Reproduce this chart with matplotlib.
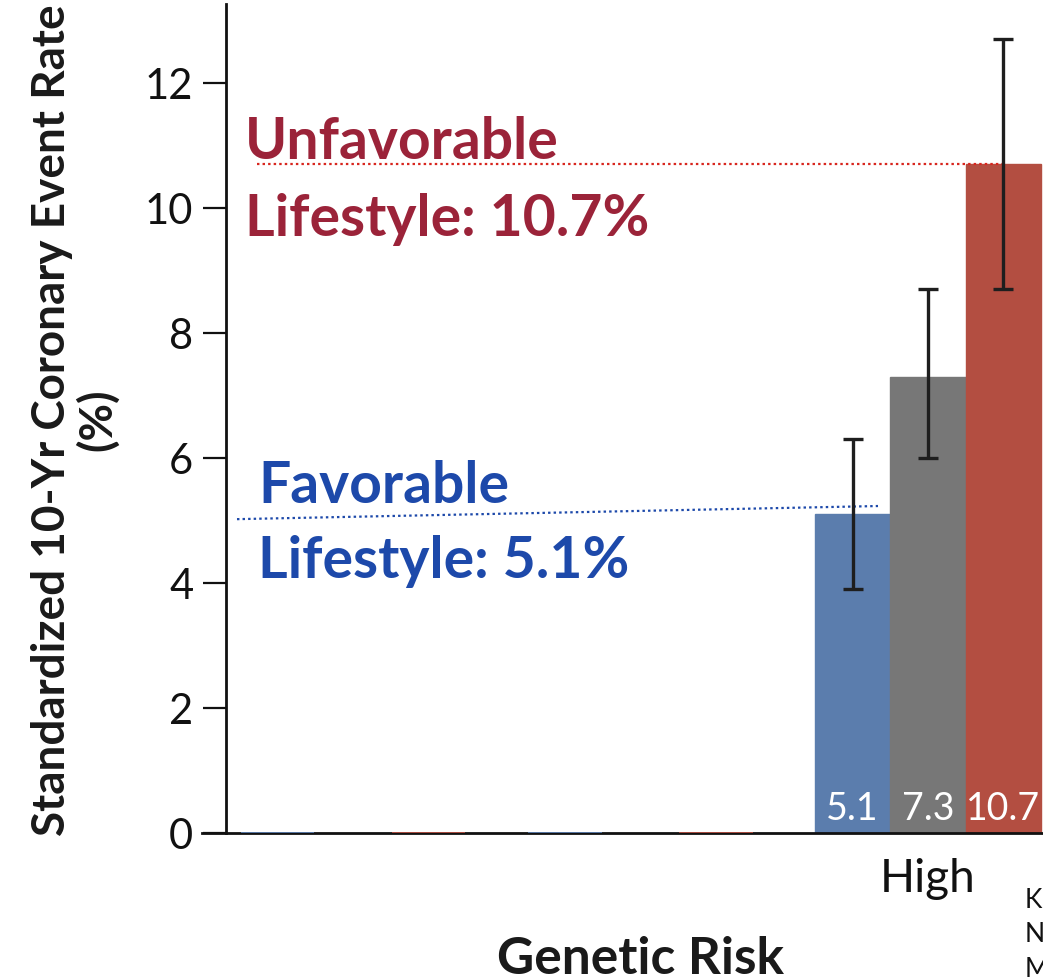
import matplotlib
matplotlib.use("Agg")
import matplotlib.pyplot as plt
import matplotlib.transforms as mtransforms
import numpy as np

# ---------------- data ----------------
categories = ["Low", "Intermediate", "High"]
lifestyle_groups = ["Favorable", "Intermediate", "Unfavorable"]
# Low / Intermediate genetic-risk bars are not revealed in this build (shown at 0)
favorable = [0.0, 0.0, 5.1]
intermediate = [0.0, 0.0, 7.3]
unfavorable = [0.0, 0.0, 10.7]
ci_low = {"Favorable": 3.9, "Intermediate": 6.0, "Unfavorable": 8.7}
ci_high = {"Favorable": 6.3, "Intermediate": 8.7, "Unfavorable": 12.7}
yticks = [0, 2, 4, 6, 8, 10, 12]
citation = ["Khera AV, et al.", "N Engl J Med 2016", "Mortality..."]

bar_colors = ["#5B7DAD", "#777777", "#B34E41"]
red_text = "#9B2339"
blue_text = "#1D49AA"
red_dot = "#D8261E"

plt.rcParams["font.family"] = ["Lato", "DejaVu Sans"]

W, H = 1043, 978
fig = plt.figure(figsize=(W / 100, H / 100), dpi=100)

# axes placement (pixels from reference)
ax_left_px, ax_right_px = 202, 1043
y0_px, ytop_px = 834, 5
ax = fig.add_axes([ax_left_px / W, (H - y0_px) / H,
                   (ax_right_px - ax_left_px) / W, (y0_px - ytop_px) / H])

group_px = 287.5
low_center_px = 353
xmin = (ax_left_px - low_center_px) / group_px
xmax = (ax_right_px - low_center_px) / group_px
ax.set_xlim(xmin, xmax)
ax.set_ylim(0, 13.26)

x = np.arange(len(categories))
w = 0.2626
series = [favorable, intermediate, unfavorable]
for i, (vals, col, name) in enumerate(zip(series, bar_colors, lifestyle_groups)):
    xpos = x + (i - 1) * w
    vals = np.asarray(vals)
    shown = vals > 0
    ax.bar(xpos[shown], vals[shown], width=w, color=col, edgecolor=col,
           linewidth=1.0, zorder=2, label=name)
    if name != "Intermediate":
        # unrevealed (zero-height) bars show as thin coloured strokes on the axis
        ax.bar(xpos[~shown], vals[~shown], width=w * 0.97, color=col, edgecolor=col,
               linewidth=1.3, zorder=3)
    for xp, v in zip(xpos[shown], vals[shown]):
        ax.errorbar(xp, v, yerr=[[v - ci_low[name]], [ci_high[name] - v]],
                    fmt="none", ecolor="#1E1E1E", elinewidth=2.4,
                    capsize=7.5, capthick=2.4, zorder=4)
        ax.text(xp, 0.22, f"{v:.1f}", color="white", ha="center",
                va="baseline", fontsize=27, zorder=5)

# spines
for s in ["top", "right"]:
    ax.spines[s].set_visible(False)
left_spine_x = (226 - low_center_px) / group_px
ax.spines["left"].set_position(("data", left_spine_x))
ax.spines["left"].set_linewidth(2.0)
ax.spines["left"].set_color("#111111")
ax.spines["bottom"].set_linewidth(2.0)
ax.spines["bottom"].set_color("#111111")

ax.set_yticks(yticks)
ax.set_yticklabels([str(t) for t in yticks])
ax.tick_params(axis="y", direction="out", length=16.5, width=1.6,
               pad=7, labelsize=30, colors="#111111")
ax.set_xticks(x)
ax.set_xticklabels(categories)
for lbl in ax.get_xticklabels()[:2]:
    lbl.set_visible(False)
ax.tick_params(axis="x", length=0, pad=17, labelsize=33, colors="#111111")

# axis labels
ax.set_xlabel("Genetic Risk", fontsize=37, fontweight="bold", color="#1a1a1a")
ax.xaxis.set_label_coords(
    1.0, (H - 974) / H,
    transform=mtransforms.blended_transform_factory(ax.transData, fig.transFigure))
ax.xaxis.label.set_va("baseline")

ax.set_ylabel("Standardized 10-Yr Coronary Event Rate\n(%)", fontsize=33,
              fontweight="bold", color="#1a1a1a", linespacing=1.05)
ax.yaxis.set_label_coords(75 / W, (H - 420) / H, transform=fig.transFigure)
ax.yaxis.label.set_va("center")
ax.yaxis.label.set_rotation_mode("default")

# annotation lines
red_x0 = (257 - low_center_px) / group_px
ax.plot([red_x0, x[2] + w], [unfavorable[2], unfavorable[2]], color=red_dot,
        linewidth=1.6, linestyle=(0, (1.1, 1.4)), zorder=3)
blue_x0 = (237 - low_center_px) / group_px
blue_x1 = (878 - low_center_px) / group_px
ax.plot([blue_x0, blue_x1], [favorable[2] - 0.08, favorable[2] + 0.13], color=blue_text,
        linewidth=1.6, linestyle=(0, (1.1, 1.4)), zorder=3)


def px_to_data(px, py):
    return (px - low_center_px) / group_px, (y0_px - py) / 62.5


tx, ty = px_to_data(245, 159)
ax.text(tx, ty, "Unfavorable", color=red_text, fontsize=41, fontweight="bold",
        ha="left", va="baseline")
tx, ty = px_to_data(245, 236)
ax.text(tx, ty, f"Lifestyle: {unfavorable[2]:.1f}%", color=red_text, fontsize=41,
        fontweight="bold", ha="left", va="baseline")
tx, ty = px_to_data(258, 503)
ax.text(tx, ty, "Favorable", color=blue_text, fontsize=41, fontweight="bold",
        ha="left", va="baseline")
tx, ty = px_to_data(258, 578)
ax.text(tx, ty, f"Lifestyle: {favorable[2]:.1f}%", color=blue_text, fontsize=41,
        fontweight="bold", ha="left", va="baseline")

# citation (cut off at the right edge)
for line, by in zip(citation, [907, 942, 977]):
    fig.text(1025 / W, (H - by) / H, line, fontsize=19, color="#111111",
             ha="left", va="baseline")

fig.savefig("out.png", dpi=100)
